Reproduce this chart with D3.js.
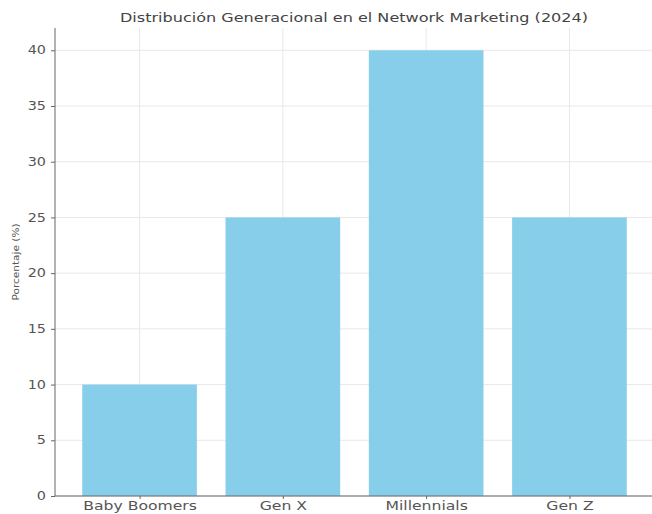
<!DOCTYPE html>
<html><head><meta charset="utf-8">
<script src="https://cdn.jsdelivr.net/npm/d3@7"></script>
<style>body{margin:0;background:#fff}svg{display:block}</style>
</head><body>
<svg id="c" width="652" height="514"></svg>
<script>
const categories = ["Baby Boomers", "Gen X", "Millennials", "Gen Z"];
const values = [10, 25, 40, 25];
const yTicks = [0, 5, 10, 15, 20, 25, 30, 35, 40];
const titleText = "Distribución Generacional en el Network Marketing (2024)";
const yLabel = "Porcentaje (%)";

const svg = d3.select("#c");
const L = 55, R = 654, T = 28, B = 496;
const n = categories.length;
const x = d3.scaleLinear().domain([-0.59, n - 1 + 0.59]).range([L, R]);
const y = d3.scaleLinear().domain([0, 42]).range([B, T]);
const bw = x(0.8) - x(0);
const FONT = "DejaVu Sans, sans-serif";

function stretch(sel, factor) {
  sel.each(function () {
    const w = this.getComputedTextLength();
    d3.select(this).attr("textLength", w * factor).attr("lengthAdjust", "spacingAndGlyphs");
  });
}

// grid
svg.append("g").selectAll("line.h").data(yTicks).join("line")
  .attr("x1", L).attr("x2", R).attr("y1", d => y(d)).attr("y2", d => y(d))
  .attr("stroke", "#e8e8e8").attr("stroke-width", 1);
svg.append("g").selectAll("line.v").data(categories).join("line")
  .attr("x1", (d, i) => x(i)).attr("x2", (d, i) => x(i)).attr("y1", T).attr("y2", B)
  .attr("stroke", "#e8e8e8").attr("stroke-width", 1);

// bars
svg.append("g").selectAll("rect").data(values).join("rect")
  .attr("x", (d, i) => x(i) - bw / 2).attr("width", bw)
  .attr("y", d => y(d)).attr("height", d => B - y(d))
  .attr("fill", "#87CEEB");

// axes
const yAxis = d3.axisLeft(y).tickValues(yTicks).tickSize(4).tickPadding(5);
const gy = svg.append("g").attr("transform", `translate(${L},0)`).call(yAxis);
gy.select(".domain").attr("d", `M0,${B}V${T}`).attr("stroke", "#666");
gy.selectAll(".tick line").attr("stroke", "#666");
gy.selectAll("text").attr("font-family", FONT).attr("font-size", 11.5).attr("fill", "#555");
stretch(gy.selectAll("text"), 1.25);

const xAxis = d3.axisBottom(x).tickValues(d3.range(n)).tickFormat(i => categories[i]).tickSize(3).tickPadding(3);
const gx = svg.append("g").attr("transform", `translate(0,${B})`).call(xAxis);
gx.select(".domain").attr("d", `M${L},0H${R}`).attr("stroke", "#666");
gx.selectAll(".tick line").attr("stroke", "#666");
gx.selectAll("text").attr("font-family", FONT).attr("font-size", 11.5).attr("fill", "#555");
stretch(gx.selectAll("text"), 1.36);

// title
const t = svg.append("text").attr("x", 354).attr("y", 22).attr("text-anchor", "middle")
  .attr("font-family", FONT).attr("font-size", 12).attr("fill", "#444")
  .text(titleText);
t.attr("textLength", 468).attr("lengthAdjust", "spacingAndGlyphs");

// y label
svg.append("text").attr("transform", `translate(18.5,262) rotate(-90)`)
  .attr("text-anchor", "middle").attr("font-family", FONT)
  .attr("font-size", 8.5).attr("fill", "#555")
  .attr("textLength", 77).attr("lengthAdjust", "spacingAndGlyphs")
  .text(yLabel);
</script>
</body></html>
